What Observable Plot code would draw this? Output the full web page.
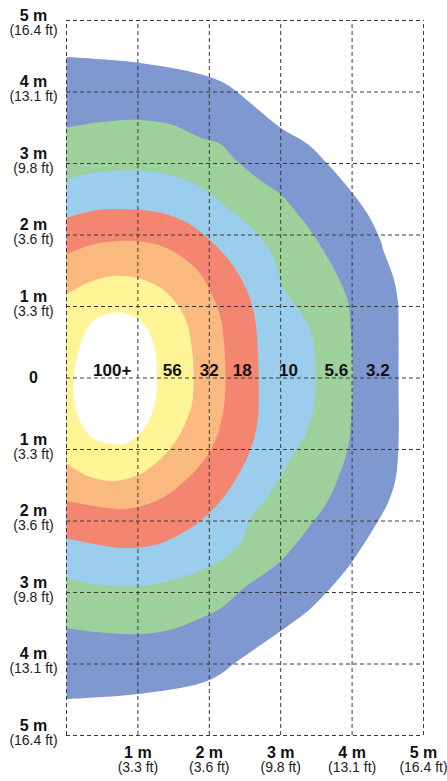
<!DOCTYPE html>
<html>
<head>
<meta charset="utf-8">
<script src="https://cdn.jsdelivr.net/npm/d3@7"></script>
<script src="https://cdn.jsdelivr.net/npm/@observablehq/plot@0.6"></script>
<style>
  html, body { margin: 0; padding: 0; background: #fff; }
  #chart { width: 447px; height: 781px; }
</style>
</head>
<body>
<div id="chart"></div>
<script>
// Contour levels (outer to inner) and their colours
const levels = ["3.2", "5.6", "10", "18", "32", "56", "100+"];
const levelColors = ["#8098D0", "#9DD09B", "#9BCDED", "#F38571", "#FAB97F", "#FFF596", "#FFFFFF"];

// Contour boundaries [x (m), y (m)], from the top of the axis round to the bottom
const c3_2 = [[0,4.49],[1.01,4.41],[1.88,4.25],[2.16,4.15],[2.34,4.04],[3.0,3.50],[3.38,3.27],[3.66,2.99],[3.98,2.62],[4.22,2.29],[4.40,1.92],[4.44,1.78],[4.58,1.40],[4.64,1.08],[4.65,0.62],[4.65,0],[4.65,-0.91],[4.61,-1.41],[4.50,-1.75],[4.26,-2.17],[4.08,-2.45],[3.98,-2.60],[3.66,-2.98],[3.38,-3.26],[3.0,-3.54],[2.34,-4.0],[2.16,-4.14],[1.88,-4.27],[1.01,-4.42],[0,-4.49]];
const c5_6 = [[0,3.50],[0.48,3.58],[1.01,3.61],[1.46,3.55],[1.88,3.36],[2.16,3.27],[2.34,3.08],[2.72,2.76],[3.0,2.57],[3.28,2.24],[3.42,2.06],[3.66,1.68],[3.81,1.40],[3.94,1.08],[3.98,0.70],[4.01,0],[3.98,-0.67],[3.94,-0.99],[3.80,-1.41],[3.66,-1.72],[3.46,-2.0],[3.0,-2.56],[2.48,-2.94],[2.16,-3.22],[1.88,-3.36],[1.46,-3.52],[1.01,-3.58],[0.48,-3.56],[0,-3.50]];
const c10 = [[0,2.78],[0.38,2.87],[1.01,2.90],[1.32,2.87],[1.69,2.76],[1.97,2.62],[2.25,2.38],[2.48,2.20],[2.72,1.96],[2.90,1.68],[3.04,1.26],[3.24,0.98],[3.38,0.76],[3.46,0.48],[3.49,0],[3.46,-0.43],[3.38,-0.71],[3.14,-1.13],[2.86,-1.61],[2.58,-1.97],[2.44,-2.31],[2.02,-2.63],[1.55,-2.81],[1.01,-2.91],[0.38,-2.88],[0,-2.80]];
const c18 = [[0,2.24],[0.38,2.34],[0.85,2.36],[1.32,2.31],[1.69,2.17],[1.97,1.96],[2.25,1.68],[2.44,1.40],[2.58,1.08],[2.65,0.76],[2.68,0.38],[2.69,0],[2.68,-0.57],[2.58,-0.99],[2.34,-1.47],[2.06,-1.83],[1.78,-2.07],[1.32,-2.31],[0.85,-2.38],[0.38,-2.32],[0,-2.24]];
const c32 = [[0,1.73],[0.38,1.87],[0.85,1.92],[1.32,1.85],[1.64,1.68],[1.88,1.45],[2.06,1.12],[2.16,0.84],[2.20,0.56],[2.23,0],[2.20,-0.43],[2.11,-0.81],[1.97,-1.09],[1.69,-1.41],[1.32,-1.69],[0.85,-1.83],[0.38,-1.79],[0,-1.72]];
const c56 = [[0,1.17],[0.29,1.33],[0.66,1.43],[0.99,1.40],[1.32,1.26],[1.55,1.03],[1.69,0.76],[1.76,0.38],[1.78,0],[1.76,-0.35],[1.69,-0.57],[1.55,-0.85],[1.32,-1.13],[1.04,-1.34],[0.66,-1.44],[0.29,-1.37],[0,-1.19]];
// innermost 100+ region (closed loop)
const c100 = [[0.10,0],[0.20,0.48],[0.38,0.80],[0.62,0.91],[0.85,0.90],[1.08,0.76],[1.22,0.48],[1.27,0],[1.22,-0.43],[1.08,-0.71],[0.85,-0.91],[0.62,-0.92],[0.38,-0.85],[0.20,-0.63],[0.10,-0.25]];

const openContours = [c3_2, c5_6, c10, c18, c32, c56];

// Contour value labels: x position (m) and a common height (m)
const labelText = ["100+", "56", "32", "18", "10", "5.6", "3.2"];
const labelX = [0.64, 1.48, 2.0, 2.46, 3.11, 3.78, 4.36];
const labelY = 0.11;

// Axis ticks and labels
const xTicks = [1, 2, 3, 4, 5];
const yTicks = [5, 4, 3, 2, 1, -1, -2, -3, -4, -5];
const gridX = [0, 1, 2, 3, 4, 5];
const gridY = [-5, -4, -3, -2, -1, 0, 1, 2, 3, 4, 5];
const feetLabels = ["(3.3 ft)", "(3.6 ft)", "(9.8 ft)", "(13.1 ft)", "(16.4 ft)"]; // for 1..5 m

const fontMain = "'Liberation Sans', Arial, sans-serif";
const ink = "#111";
const feet = d => feetLabels[Math.abs(d) - 1];
const mDy = d => d === 5 ? -5 : -10;
const fDy = d => d === 5 ? 10 : 5;

const marks = [
  ...openContours.map((c, i) =>
    Plot.line(c, {x: d => d[0], y: d => d[1], fill: levelColors[i], stroke: "none", curve: "catmull-rom"})),
  Plot.line(c100, {x: d => d[0], y: d => d[1], fill: levelColors[6], stroke: "none", curve: "catmull-rom-closed"}),

  // dashed grid
  Plot.ruleX(gridX, {y1: -5, y2: 5, stroke: "#3a3a3a", strokeWidth: 1, strokeDasharray: "4,3"}),
  Plot.ruleY(gridY, {x1: 0, x2: 5, stroke: "#3a3a3a", strokeWidth: 1, strokeDasharray: "4,3"}),

  // contour labels
  Plot.text(labelText, {x: (d, i) => labelX[i], y: () => labelY, text: d => d, fontFamily: fontMain, fontWeight: "bold", fontSize: 17, fill: ink, textAnchor: "middle", lineAnchor: "middle", ariaLabel: "contour-labels"}),

  // left labels
  ...yTicks.map(v => Plot.text([v], {x: () => 0, y: d => d, dx: -33, dy: mDy(v), text: d => `${Math.abs(d)} m`, fontFamily: fontMain, fontWeight: "bold", fontSize: 16, fill: ink, textAnchor: "middle", lineAnchor: "middle"})),
  ...yTicks.map(v => Plot.text([v], {x: () => 0, y: d => d, dx: -33, dy: fDy(v), text: feet, fontFamily: fontMain, fontSize: 14, fill: "#222", textAnchor: "middle", lineAnchor: "middle"})),
  Plot.text([0], {x: () => 0, y: d => d, dx: -33, text: () => "0", fontFamily: fontMain, fontWeight: "bold", fontSize: 16, fill: ink, textAnchor: "middle", lineAnchor: "middle"}),

  // bottom labels
  Plot.text(xTicks, {x: d => d, y: () => -5, dy: 17, text: d => `${d} m`, fontFamily: fontMain, fontWeight: "bold", fontSize: 16, fill: ink, textAnchor: "middle", lineAnchor: "middle"}),
  Plot.text(xTicks, {x: d => d, y: () => -5, dy: 32, text: feet, fontFamily: fontMain, fontSize: 14, fill: "#222", textAnchor: "middle", lineAnchor: "middle"})
];

const chart = Plot.plot({
  width: 447,
  height: 781,
  marginTop: 20,
  marginRight: 24,
  marginBottom: 46,
  marginLeft: 66,
  x: {domain: [0, 5], axis: null},
  y: {domain: [-5, 5], axis: null},
  style: {background: "#fff", fontFamily: fontMain, overflow: "visible"},
  marks
});
document.getElementById("chart").appendChild(chart);

// condense the contour value labels, as in the reference
chart.querySelectorAll('g[aria-label="contour-labels"] text').forEach(t => {
  const w = t.getComputedTextLength();
  t.setAttribute("textLength", (w * 0.8).toFixed(1));
  t.setAttribute("lengthAdjust", "spacingAndGlyphs");
});
</script>
</body>
</html>
